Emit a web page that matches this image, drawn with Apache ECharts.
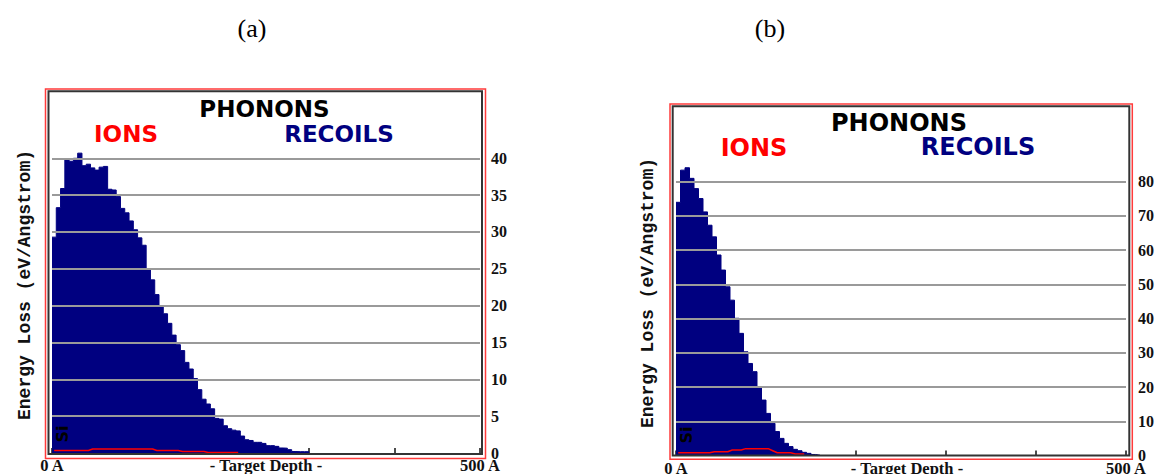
<!DOCTYPE html>
<html>
<head>
<meta charset="utf-8">
<script src="https://cdn.jsdelivr.net/npm/echarts@6/dist/echarts.min.js"></script>
<style>
html,body{margin:0;padding:0;background:#fff;}
#chart{width:1164px;height:474px;}
</style>
</head>
<body>
<div id="chart"></div>
<script>
// ---- data (Energy loss per 5 Å depth bin, eV/Angstrom) ----
var binWidth = 5; // Å
var leftRecoils = [29.3, 33.3, 35.9, 39.9, 39.6, 40.0, 40.7, 39.0, 39.2, 38.7,
  38.4, 38.8, 38.9, 35.8, 35.7, 34.8, 33.2, 32.6, 31.5, 30.3,
  29.2, 28.2, 25.0, 23.5, 21.5, 20.0, 18.9, 17.6, 16.0, 14.7,
  13.9, 12.3, 11.4, 10.1, 8.6, 7.3, 6.65, 6.0, 4.7, 4.6,
  3.7, 3.3, 3.1, 3.0, 2.3, 1.8, 1.7, 1.45, 1.45, 1.3,
  1.0, 1.0, 0.9, 0.68, 0.65, 0.45, 0.2, 0.18, 0.18, 0.18];
var leftIons = [0.35, 0.35, 0.35, 0.35, 0.35, 0.35, 0.35, 0.35, 0.35,
  0.55, 0.55, 0.55, 0.55, 0.55, 0.55, 0.55, 0.55, 0.55, 0.55, 0.55, 0.55, 0.55, 0.55, 0.55,
  0.35, 0.35, 0.35, 0.35, 0.35, 0.35,
  0.2, 0.2, 0.2, 0.2, 0.2, 0.2,
  0.08, 0.08, 0.08, 0.08, 0.08, 0.08, 0.08, 0.08];
var rightRecoils = [74, 83.4, 84.1, 81.0, 78.0, 75.1, 71.2, 67.3, 63.9, 58.6,
  54.2, 49.3, 45.4, 40.1, 35.7, 30.3, 26.9, 24.5, 19.9, 16.2,
  12.3, 9.4, 7.0, 5.0, 3.55, 2.6, 1.8, 1.4, 0.93, 0.63,
  0.3, 0.1];
var rightIons = [0.8, 0.8, 0.8, 0.8, 0.8, 0.8, 0.8, 0.8,
  1.1, 1.1, 1.1, 1.1,
  1.6, 1.6, 1.6,
  2.0, 2.0, 2.0, 2.0, 2.0, 2.0,
  1.4,
  0.8, 0.8, 0.8, 0.8,
  0.45, 0.45, 0.45];

// ---- tick labels ----
var leftYTicks = [0, 5, 10, 15, 20, 25, 30, 35, 40];
var rightYTicks = [0, 10, 20, 30, 40, 50, 60, 70, 80];
var xLabelValues = [0, 500];
var xLabelTexts = ['0 A', '500 A'];
var xAxisTitle = '- Target Depth -';
var yAxisTitle = 'Energy Loss (eV/Angstrom)';
var panelTags = ['(a)', '(b)'];

// ---- helpers ----
function stepData(vals) {
  var d = vals.map(function (v, i) { return [i * binWidth, v]; });
  d.push([vals.length * binWidth, 0]);
  return d;
}
function centerData(vals) {
  return vals.map(function (v, i) { return [i * binWidth + binWidth / 2, v]; });
}
function yFmt(ticks) {
  return function (v) { return ticks.indexOf(v) >= 0 ? String(v) : ''; };
}
function xFmt(v) {
  var k = xLabelValues.indexOf(v);
  return k >= 0 ? xLabelTexts[k] : '';
}
function gridLines(ticks) {
  return ticks.filter(function (t) { return t > 0; }).map(function (t) { return { yAxis: t }; });
}

var labelFont = {fontFamily: '"Liberation Serif", "Times New Roman", serif', fontWeight: 'bold', color: '#111'};

function xAxisCfg(gi, namePad) {
  return {
    type: 'value', gridIndex: gi, min: 0, max: 500, interval: 100,
    axisLine: {show: false},
    axisTick: {show: true, inside: true, length: 5, lineStyle: {color: '#111', width: 1.5}},
    splitLine: {show: false},
    axisLabel: Object.assign({formatter: xFmt, fontSize: 16.5, margin: 4, showMinLabel: true, showMaxLabel: true,
                              hideOverlap: false}, labelFont),
    name: xAxisTitle, nameLocation: 'middle', nameGap: 4, nameMoveOverlap: false,
    nameTextStyle: Object.assign({fontSize: 16.5, verticalAlign: 'top', padding: namePad}, labelFont)
  };
}
function yAxisCfg(gi, max, interval, ticks, margin) {
  return {
    type: 'value', gridIndex: gi, min: 0, max: max, interval: interval, position: 'right',
    axisLine: {show: false}, axisTick: {show: false}, splitLine: {show: false},
    axisLabel: Object.assign({formatter: yFmt(ticks), fontSize: 16, margin: margin, showMaxLabel: false,
                              padding: [0, 0, 6, 0]}, labelFont)
  };
}
function recoilSeries(xi, vals, ticks) {
  return {
    type: 'line', xAxisIndex: xi, yAxisIndex: xi, step: 'end', data: stepData(vals),
    showSymbol: false, symbol: 'none', z: 2,
    lineStyle: {color: '#000080', width: 1},
    areaStyle: {color: '#000080', opacity: 1},
    markLine: {
      silent: true, symbol: 'none', z: 5, animation: false,
      label: {show: false},
      lineStyle: {color: '#9a9a9a', width: 2, type: 'solid'},
      emphasis: {disabled: true},
      data: gridLines(ticks)
    }
  };
}
function ionSeries(xi, vals) {
  return {
    type: 'line', xAxisIndex: xi, yAxisIndex: xi, data: centerData(vals),
    showSymbol: false, symbol: 'none', z: 6,
    lineStyle: {color: '#ff0000', width: 1.5}
  };
}
function txt(x, y, text, font, fill, rot) {
  return {
    type: 'text', x: x, y: y, rotation: rot || 0, z: 20, silent: true,
    style: {text: text, font: font, fill: fill, align: 'center', verticalAlign: 'middle',
            textAlign: 'center', textVerticalAlign: 'middle'}
  };
}
function frame(x, y, w, h, color, lw) {
  return {type: 'rect', z: 15, silent: true, shape: {x: x, y: y, width: w, height: h},
          style: {fill: 'none', stroke: color, lineWidth: lw}};
}

var titleFontL = 'bold 23px "DejaVu Sans", Verdana, sans-serif';
var titleFontR = 'bold 24px "DejaVu Sans", Verdana, sans-serif';
var yTitleFont = 'bold 18px "Liberation Mono", "Courier New", monospace';
var siFont = 'bold 16px "DejaVu Sans", sans-serif';
var tagFont = '26px "Liberation Serif", "Times New Roman", serif';

var chart = echarts.init(document.getElementById('chart'), null, {renderer: 'svg'});
chart.setOption({
  animation: false,
  backgroundColor: '#fff',
  grid: [
    {left: 52, top: 92, width: 428, height: 361, containLabel: false, outerBoundsMode: 'none'},
    {left: 676, top: 106.5, width: 450, height: 349, containLabel: false, outerBoundsMode: 'none'}
  ],
  xAxis: [xAxisCfg(0, [0, 0, 0, 0]), xAxisCfg(1, [0, 0, 0, 12])],
  yAxis: [yAxisCfg(0, 49, 5, leftYTicks, 11), yAxisCfg(1, 102, 10, rightYTicks, 12)],
  series: [
    recoilSeries(0, leftRecoils, leftYTicks),
    ionSeries(0, leftIons),
    recoilSeries(1, rightRecoils, rightYTicks),
    ionSeries(1, rightIons)
  ],
  graphic: [
    txt(252, 28, panelTags[0], tagFont, '#000'),
    txt(770, 28, panelTags[1], tagFont, '#000'),
    frame(45.5, 89, 440, 369.5, '#ff3b3b', 1.5),
    frame(48.5, 91.2, 433.5, 362.8, '#333', 2),
    frame(670, 104, 462.3, 355.3, '#ff3b3b', 1.5),
    frame(672.7, 106.3, 456.6, 349.2, '#333', 2),
    txt(264.5, 108.5, 'PHONONS', titleFontL, '#000'),
    txt(126, 134, 'IONS', titleFontL, '#ff0000'),
    txt(339, 134, 'RECOILS', titleFontL, '#000080'),
    txt(899, 123, 'PHONONS', titleFontR, '#000'),
    txt(754, 148, 'IONS', titleFontR, '#ff0000'),
    txt(978, 147, 'RECOILS', titleFontR, '#000080'),
    txt(25, 285, yAxisTitle, yTitleFont, '#111', Math.PI / 2),
    txt(648, 293, yAxisTitle, yTitleFont, '#111', Math.PI / 2),
    txt(62, 434, 'Si', siFont, '#000', Math.PI / 2),
    txt(686, 435, 'Si', siFont, '#000', Math.PI / 2)
  ]
});
</script>
</body>
</html>
